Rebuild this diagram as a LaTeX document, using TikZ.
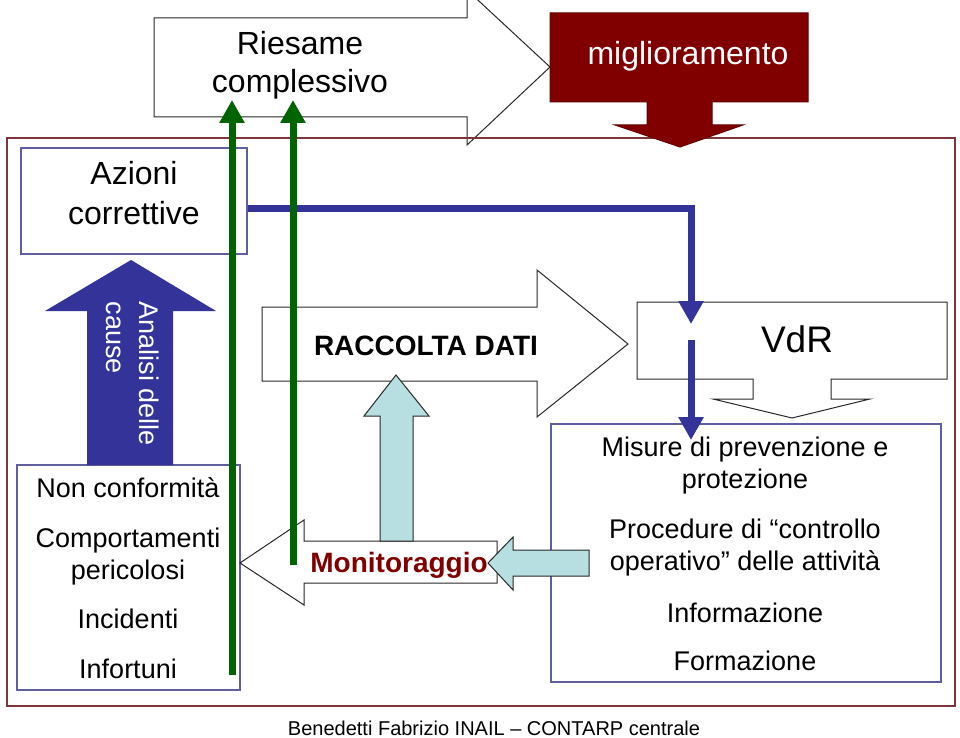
\documentclass[tikz,border=0pt]{standalone}
\usepackage{fontspec}
\setmainfont{Liberation Sans}
\usetikzlibrary{arrows.meta}
\definecolor{framecol}{RGB}{125,55,60}
\definecolor{boxcol}{RGB}{95,95,160}
\definecolor{dblue}{RGB}{51,51,153}
\definecolor{dgreen}{RGB}{0,100,0}
\definecolor{dred}{RGB}{128,0,0}
\definecolor{lcyan}{RGB}{183,222,224}
\definecolor{outl}{RGB}{40,40,40}
\tikzset{
  txt/.style={anchor=base,inner sep=0pt,font=\fontsize{27}{32}\selectfont},
  bigtxt/.style={anchor=base,inner sep=0pt,font=\fontsize{32}{38}\selectfont},
  boldtxt/.style={anchor=base,inner sep=0pt,font=\fontsize{28}{33}\selectfont\bfseries},
  plainbox/.style={draw=boxcol,line width=1.2pt,inner sep=0pt},
  arrowshape/.style={draw=outl,fill=white,line width=1pt,line join=miter},
  cyanarrow/.style={draw=outl,fill=lcyan,line width=1pt,line join=miter},
  blueconn/.style={draw=dblue,line width=7pt,line join=miter,-{Triangle[length=23pt,width=24pt]}},
  greenconn/.style={draw=dgreen,line width=7pt,-{Triangle[length=23pt,width=24pt]}}
}
\begin{document}
\begin{tikzpicture}[x=1pt,y=-1pt]
\useasboundingbox (0,0) rectangle (960,738);
\clip (0,0) rectangle (960,738);
\fill[white] (0,0) rectangle (960,738);

% Riesame complessivo arrow
\draw[arrowshape] (154,18) -- (467,18) -- (467,-10) -- (550,67) -- (467,145) -- (467,117) -- (154,117) -- cycle;

% outer frame
\draw[framecol,line width=2pt] (7,138) rectangle (955,706);

% miglioramento block arrow
\draw[draw={rgb,255:red,100;green,0;blue,0},fill=dred,line width=1pt,line join=miter]
  (550,13) -- (808,13) -- (808,102) -- (712,102) -- (712,125) -- (743,125) -- (680,147)
  -- (615,125) -- (647,125) -- (647,102) -- (550,102) -- cycle;

% boxes
\node[plainbox,minimum width=226pt,minimum height=106pt] (azioni) at (134,201) {};
\node[plainbox,minimum width=223pt,minimum height=225pt] (eventi) at (128.5,577.5) {};
\node[plainbox,minimum width=390pt,minimum height=258pt] (misure) at (746,553) {};

% Analisi delle cause arrow
\fill[dblue] (87,465) -- (87,311) -- (45,311) -- (131,260) -- (216,311) -- (173,311) -- (173,465) -- cycle;

% RACCOLTA DATI arrow
\draw[arrowshape] (262,307) -- (537,307) -- (537,270) -- (628,344) -- (537,417) -- (537,381) -- (262,381) -- cycle;

% Monitoraggio arrow
\draw[arrowshape] (497,541) -- (304,541) -- (304,520) -- (240,563) -- (304,605) -- (304,583) -- (497,583) -- cycle;

% light cyan arrows
\draw[cyanarrow] (380,541) -- (380,416) -- (364,416) -- (396,375) -- (429,416) -- (413,416) -- (413,541) -- cycle;
\draw[cyanarrow] (589,550) -- (513,550) -- (513,537) -- (488,563) -- (513,590) -- (513,576) -- (589,576) -- cycle;

% VdR callout
\draw[draw=outl,fill=white,line width=1pt,line join=miter]
  (637,302) -- (947,302) -- (947,379) -- (831,379) -- (831,399) -- (870,399) -- (792,418)
  -- (713,399) -- (753,399) -- (753,379) -- (637,379) -- cycle;

% texts
\node[bigtxt] (t-ries1) at (300,55) {Riesame};
\node[bigtxt] (t-ries2) at (300,93) {complessivo};
\node[bigtxt,text=white] (t-migl) at (688,65) {miglioramento};
\node[bigtxt] (t-az1) at (134,185) {Azioni};
\node[bigtxt] (t-az2) at (134,224) {correttive};
\node[anchor=center,inner sep=0pt,rotate=-90,align=left,text=white,
      font=\fontsize{27}{33}\selectfont] (t-anal) at (133,374) {Analisi delle\\cause};
\node[txt] (t-ev1) at (128,497) {Non conformità};
\node[txt] (t-ev2) at (128,547) {Comportamenti};
\node[txt] (t-ev3) at (128,579) {pericolosi};
\node[txt] (t-ev4) at (128,628) {Incidenti};
\node[txt] (t-ev5) at (128,678) {Infortuni};
\node[boldtxt] (t-racc) at (426,355) {RACCOLTA DATI};
\node[anchor=base,inner sep=0pt,font=\fontsize{28}{33}\selectfont\bfseries,text=dred] (t-mon) at (399,572) {Monitoraggio};
\node[anchor=base,inner sep=0pt,font=\fontsize{37}{44}\selectfont] (t-vdr) at (797,352) {VdR};
\node[txt] (t-mi1) at (745,456) {Misure di prevenzione e};
\node[txt] (t-mi2) at (745,488) {protezione};
\node[txt] (t-mi3) at (745,538) {Procedure di “controllo};
\node[txt] (t-mi4) at (745,570) {operativo” delle attività};
\node[txt] (t-mi5) at (745,622) {Informazione};
\node[txt] (t-mi6) at (745,670) {Formazione};
\node[anchor=base,inner sep=0pt,font=\fontsize{20}{24}\selectfont] (t-foot) at (494,735) {Benedetti Fabrizio INAIL – CONTARP centrale};

% blue connectors
\coordinate (b1a) at (azioni.east |- 0,208);
\coordinate (b1c) at (691,208);
\coordinate (b1e) at (691,324);
\draw[blueconn] (b1a) -- (b1c) -- (b1e);
\coordinate (b2a) at (691,340);
\coordinate (b2e) at (691,440);
\draw[blueconn] (b2a) -- (b2e);

% green connectors
\coordinate (g1a) at (232,675);
\coordinate (g1e) at (232,100);
\coordinate (g2a) at (293,565);
\coordinate (g2e) at (293,100);
\draw[greenconn] (g1a) -- (g1e);
\draw[greenconn] (g2a) -- (g2e);
\end{tikzpicture}
\end{document}
